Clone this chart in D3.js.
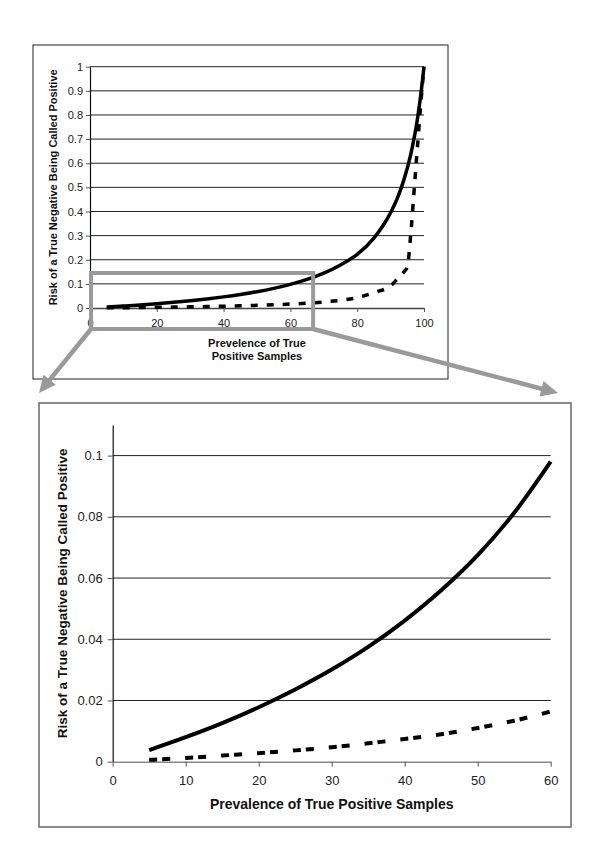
<!DOCTYPE html>
<html>
<head>
<meta charset="utf-8">
<script src="https://cdn.jsdelivr.net/npm/d3@7"></script>
<style>
  body { margin: 0; background: #fff; }
  svg { display: block; font-family: "Liberation Sans", Arial, sans-serif; }
</style>
</head>
<body>
<svg id="chart" width="600" height="853"></svg>
<script>
// values
const prevalence = [5, 10, 15, 20, 25, 30, 35, 40, 45, 50, 55, 60, 65, 70, 75, 80, 85, 88, 90, 92, 94, 96, 98, 99, 100];
const riskSolid = [0.0038, 0.008, 0.0126, 0.0178, 0.0236, 0.0301, 0.0375, 0.0461, 0.056, 0.0675, 0.0813, 0.098,
  0.1186, 0.1446, 0.1785, 0.222, 0.29, 0.347, 0.395, 0.454, 0.532, 0.635, 0.78, 0.88, 1.0];

const prevalenceDashed = [5, 10, 15, 20, 25, 30, 35, 40, 45, 50, 55, 60, 65, 70, 75, 80, 85, 90, 92, 94, 95, 96, 97, 98, 99, 100];
const riskDashed = [0.0006, 0.0012, 0.002, 0.0028, 0.0037, 0.0047, 0.006, 0.0074, 0.009, 0.011, 0.0134, 0.0164,
  0.02, 0.025, 0.032, 0.043, 0.064, 0.092, 0.12, 0.15, 0.17, 0.3, 0.48, 0.66, 0.84, 1.0];

const topXTicks = [0, 20, 40, 60, 80, 100];
const topYTicks = [0, 0.1, 0.2, 0.3, 0.4, 0.5, 0.6, 0.7, 0.8, 0.9, 1];
const bottomXTicks = [0, 10, 20, 30, 40, 50, 60];
const bottomYTicks = [0, 0.02, 0.04, 0.06, 0.08, 0.1];

// zoomed window drawn on the top chart (data units)
const zoomWindow = { x0: 0.3, x1: 66.8, y0: -0.087, y1: 0.145 };

const solidData = prevalence.map((x, i) => ({ x: x, y: riskSolid[i] }));
const dashedData = prevalenceDashed.map((x, i) => ({ x: x, y: riskDashed[i] }));

const svg = d3.select("#chart");

function drawChart(cfg) {
  const g = svg.append("g");

  const x = d3.scaleLinear().domain(cfg.xDomain).range(cfg.xRange);
  const y = d3.scaleLinear().domain(cfg.yDomain).range(cfg.yRange);

  // frame
  g.append("rect")
    .attr("x", cfg.box.x).attr("y", cfg.box.y)
    .attr("width", cfg.box.w).attr("height", cfg.box.h)
    .attr("fill", "#fff")
    .attr("stroke", cfg.boxColor)
    .attr("stroke-width", cfg.boxWidth);

  // gridlines
  g.append("g")
    .selectAll("line")
    .data(cfg.yTicks.filter(d => d > 0))
    .join("line")
    .attr("x1", x(cfg.xDomain[0])).attr("x2", x(cfg.xDomain[1]))
    .attr("y1", d => y(d)).attr("y2", d => y(d))
    .attr("stroke", "#222")
    .attr("stroke-width", 1);

  const yAxis = g.append("g")
    .attr("transform", `translate(${x(0)},0)`)
    .call(d3.axisLeft(y).tickValues(cfg.yTicks).tickSizeInner(cfg.tick).tickSizeOuter(0)
      .tickPadding(cfg.yPad).tickFormat(d3.format(cfg.yFmt)));
  yAxis.select(".domain").attr("stroke", "#111").attr("stroke-width", 1.2);
  yAxis.selectAll(".tick line").attr("stroke", "#555");
  yAxis.selectAll("text").attr("fill", "#222").style("font-size", cfg.tickFont + "px");

  const xAxis = g.append("g")
    .attr("transform", `translate(0,${y(0)})`)
    .call(d3.axisBottom(x).tickValues(cfg.xTicks).tickSizeInner(cfg.tick).tickSizeOuter(0)
      .tickPadding(cfg.xPad));
  xAxis.select(".domain").attr("stroke", cfg.xAxisColor).attr("stroke-width", 1.5);
  xAxis.selectAll(".tick line").attr("stroke", "#555");
  xAxis.selectAll("text").attr("fill", "#222").style("font-size", cfg.tickFont + "px");

  const line = d3.line()
    .x(d => x(d.x))
    .y(d => y(d.y))
    .curve(d3.curveMonotoneX);

  const maxX = cfg.xDomain[1];

  g.append("path")
    .datum(dashedData.filter(d => d.x <= maxX))
    .attr("d", line)
    .attr("fill", "none")
    .attr("stroke", "#000")
    .attr("stroke-width", cfg.dashWidth)
    .attr("stroke-dasharray", cfg.dash);

  g.append("path")
    .datum(solidData.filter(d => d.x <= maxX))
    .attr("d", line)
    .attr("fill", "none")
    .attr("stroke", "#000")
    .attr("stroke-width", cfg.lineWidth)
    .attr("stroke-linecap", "butt");

  // axis titles
  const xt = g.append("text")
    .attr("text-anchor", "middle")
    .attr("font-weight", "bold")
    .attr("fill", "#111")
    .style("font-size", cfg.titleFont + "px");
  cfg.xTitle.forEach((t, i) => {
    xt.append("tspan")
      .attr("x", (cfg.xRange[0] + cfg.xRange[1]) / 2)
      .attr("y", cfg.xTitleY + i * cfg.titleFont * 1.27)
      .text(t);
  });

  g.append("text")
    .attr("transform", `translate(${cfg.yTitleX},${(cfg.yRange[0] + cfg.yRange[1]) / 2}) rotate(-90)`)
    .attr("text-anchor", "middle")
    .attr("font-weight", "bold")
    .attr("fill", "#111")
    .style("font-size", cfg.yTitleFont + "px")
    .text("Risk of a True Negative Being Called Positive");

  return { g: g, x: x, y: y };
}

const topChart = drawChart({
  box: { x: 33, y: 45, w: 415, h: 334 }, boxColor: "#222", boxWidth: 1,
  xDomain: [0, 100], xRange: [90, 424],
  yDomain: [0, 1], yRange: [308, 66.7],
  xTicks: topXTicks, yTicks: topYTicks, yFmt: ".1~f",
  tick: 4, xPad: 7, yPad: 3, tickFont: 11,
  xAxisColor: "#444",
  lineWidth: 3.5, dashWidth: 3.5, dash: "7,9",
  xTitle: ["Prevelence of True", "Positive Samples"], xTitleY: 346.5, titleFont: 11,
  yTitleX: 57.3, yTitleFont: 11
});

const bottomBox = { x: 39, y: 403, w: 532, h: 424 };
drawChart({
  box: bottomBox, boxColor: "#666", boxWidth: 1.5,
  xDomain: [0, 60], xRange: [112.7, 550.7],
  yDomain: [0, 0.11], yRange: [761.7, 425],
  xTicks: bottomXTicks, yTicks: bottomYTicks, yFmt: ".2~f",
  tick: 5, xPad: 9, yPad: 5, tickFont: 13,
  xAxisColor: "#888",
  lineWidth: 4, dashWidth: 4, dash: "8,5,8,15",
  xTitle: ["Prevalence of True Positive Samples"], xTitleY: 809, titleFont: 14,
  yTitleX: 66.6, yTitleFont: 13.5
});

// zoom window and arrows
const zx0 = topChart.x(zoomWindow.x0), zx1 = topChart.x(zoomWindow.x1);
const zy0 = topChart.y(zoomWindow.y0), zy1 = topChart.y(zoomWindow.y1);

const ann = svg.append("g");
ann.append("rect")
  .attr("x", zx0).attr("y", zy1)
  .attr("width", zx1 - zx0).attr("height", zy0 - zy1)
  .attr("fill", "none")
  .attr("stroke", "#9a9a9a")
  .attr("stroke-width", 4);

function arrow(s, t) {
  const dx = t[0] - s[0], dy = t[1] - s[1];
  const L = Math.hypot(dx, dy), ux = dx / L, uy = dy / L;
  const px = -uy, py = ux;
  const hl = 17, hw = 8;
  const b = [t[0] - ux * hl, t[1] - uy * hl];
  ann.append("line")
    .attr("x1", s[0]).attr("y1", s[1])
    .attr("x2", b[0] + ux * 2).attr("y2", b[1] + uy * 2)
    .attr("stroke", "#9a9a9a")
    .attr("stroke-width", 4.5);
  ann.append("path")
    .attr("d", `M${t[0]},${t[1]}L${b[0] + px * hw},${b[1] + py * hw}L${b[0] - px * hw},${b[1] - py * hw}Z`)
    .attr("fill", "#9a9a9a");
}

arrow([zx0, zy0], [bottomBox.x, bottomBox.y - 10]);
arrow([zx1, zy0], [bottomBox.x + bottomBox.w - 13, bottomBox.y - 10]);
</script>
</body>
</html>
